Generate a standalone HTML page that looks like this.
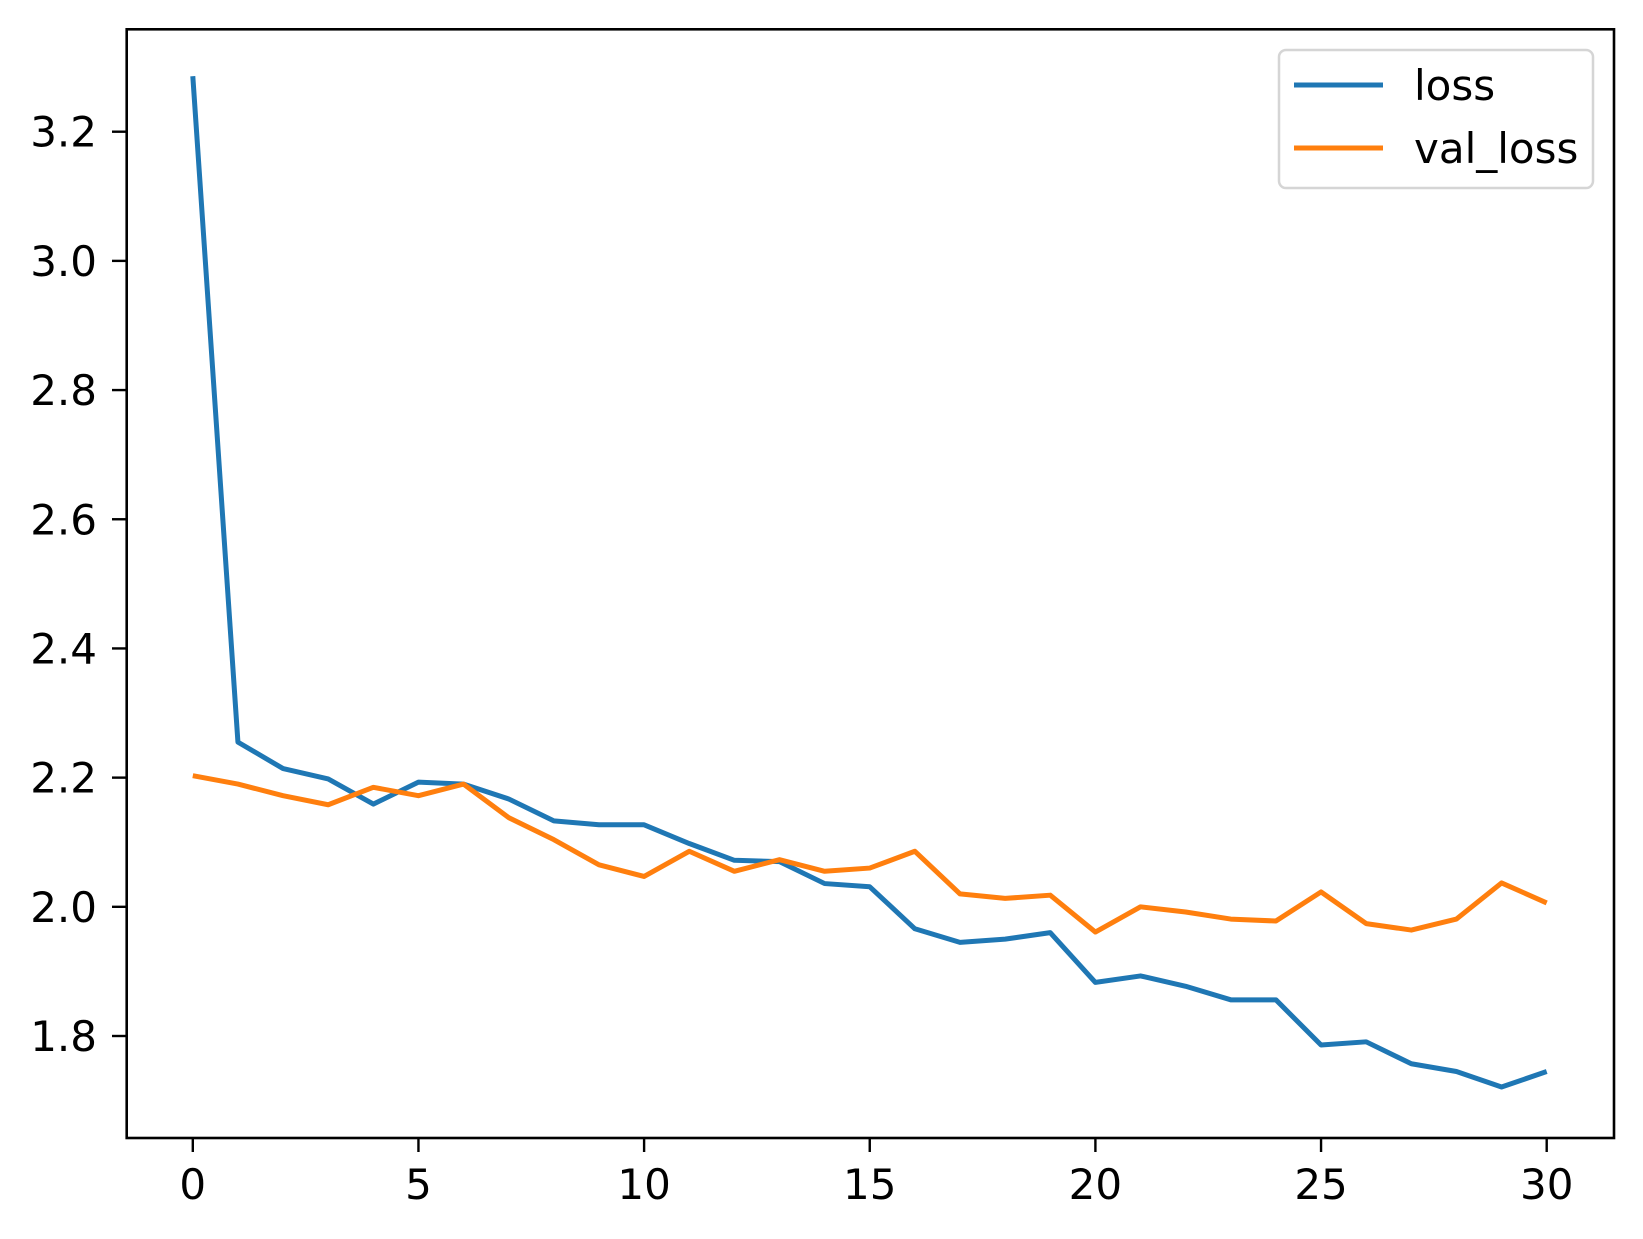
<!DOCTYPE html>
<html><head><meta charset="utf-8"><style>
body{margin:0;background:#fff;}
svg{display:block;font-family:"DejaVu Sans","Liberation Sans",sans-serif;}
</style></head><body>
<svg id="chart" width="1643" height="1239" viewBox="0 0 1643 1239" xmlns="http://www.w3.org/2000/svg">
<rect width="1643" height="1239" fill="#fff"/>
<g id="ticks"></g>
<g id="lines"></g>
<rect x="126.7" y="29.3" width="1487.3" height="1108.7" fill="none" stroke="#000" stroke-width="2.6"/>
<g>
<rect x="1279" y="50" width="314" height="138" rx="7" fill="#fff" fill-opacity="0.8" stroke="#d5d5d5" stroke-width="2.5"/>
<line x1="1294" y1="85" x2="1383" y2="85" stroke="#1f77b4" stroke-width="5"/>
<text x="1414" y="100" font-size="42">loss</text>
<line x1="1294" y1="148" x2="1383" y2="148" stroke="#ff7f0e" stroke-width="5"/>
<text x="1414" y="163" font-size="42">val_loss</text>
</g>
</svg>
<script>
const epochs = [0,1,2,3,4,5,6,7,8,9,10,11,12,13,14,15,16,17,18,19,20,21,22,23,24,25,26,27,28,29,30];
const lossValues = [3.286,2.255,2.214,2.198,2.159,2.193,2.190,2.167,2.133,2.127,2.127,2.098,2.072,2.070,2.036,2.031,1.966,1.945,1.950,1.960,1.883,1.893,1.877,1.856,1.856,1.786,1.791,1.757,1.745,1.721,1.745];
const valLossValues = [2.203,2.190,2.172,2.158,2.185,2.172,2.190,2.138,2.104,2.065,2.047,2.086,2.055,2.073,2.055,2.060,2.086,2.020,2.013,2.018,1.961,2.000,1.992,1.981,1.978,2.023,1.974,1.964,1.981,2.037,2.006];
const xTicks = [0,5,10,15,20,25,30];
const yTicks = [1.8,2.0,2.2,2.4,2.6,2.8,3.0,3.2];

const NS = "http://www.w3.org/2000/svg";
function xScale(v){ return 192.8 + v * (1546.7 - 192.8) / 30; }
function yScale(v){ return 131.7 + (3.2 - v) * (1036 - 131.7) / 1.4; }

const tg = document.getElementById('ticks');
xTicks.forEach(t => {
  const l = document.createElementNS(NS,'line');
  
  
  l.setAttribute('x1',xScale(t)); l.setAttribute('x2',xScale(t));
  l.setAttribute('y1',1138); l.setAttribute('y2',1152);
  l.setAttribute('stroke','#000'); l.setAttribute('stroke-width','2.4');
  tg.appendChild(l);
  const tx = document.createElementNS(NS,'text');
  
  
  tx.setAttribute('x',xScale(t)); tx.setAttribute('y',1199);
  tx.setAttribute('text-anchor','middle'); tx.setAttribute('font-size','42');
  tx.textContent = String(t);
  tg.appendChild(tx);
});
yTicks.forEach(t => {
  const l = document.createElementNS(NS,'line');
  
  
  l.setAttribute('x1',112); l.setAttribute('x2',126.7);
  l.setAttribute('y1',yScale(t)); l.setAttribute('y2',yScale(t));
  l.setAttribute('stroke','#000'); l.setAttribute('stroke-width','2.4');
  tg.appendChild(l);
  const tx = document.createElementNS(NS,'text');
  
  
  tx.setAttribute('x',97); tx.setAttribute('y',yScale(t)+15);
  tx.setAttribute('text-anchor','end'); tx.setAttribute('font-size','42');
  tx.textContent = t.toFixed(1);
  tg.appendChild(tx);
});

const lg = document.getElementById('lines');
function drawSeries(vals, color, name){
  const p = document.createElementNS(NS,'polyline');
  
  
  p.setAttribute('points', vals.map((v,i)=>xScale(epochs[i])+','+yScale(v)).join(' '));
  p.setAttribute('fill','none'); p.setAttribute('stroke',color);
  p.setAttribute('stroke-width','5'); p.setAttribute('stroke-linejoin','round');
  lg.appendChild(p);
}
drawSeries(lossValues,'#1f77b4','loss-line');
drawSeries(valLossValues,'#ff7f0e','val-loss-line');
</script>
</body></html>
